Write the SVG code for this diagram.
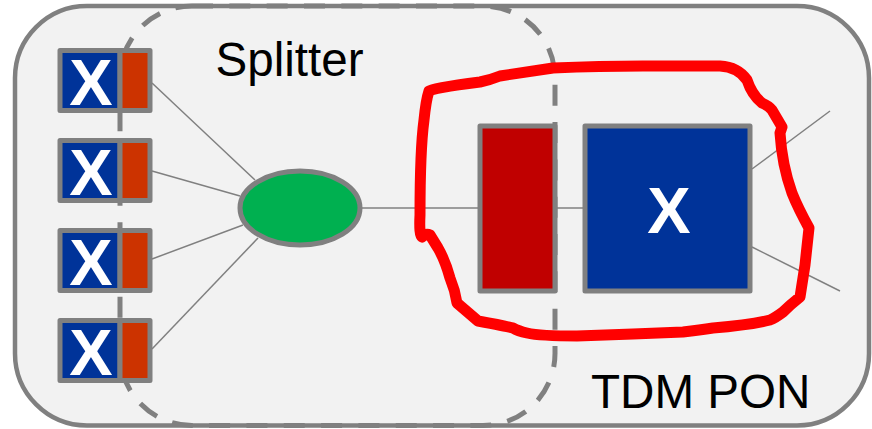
<svg xmlns="http://www.w3.org/2000/svg" width="872" height="429" viewBox="0 0 872 429">
<style>
.box{stroke:#808080;stroke-width:5;stroke-linejoin:round}
.blue{fill:#003399}
.orange{fill:#cc3300}
.dark{fill:#c00000}
.x{font-family:"Liberation Sans",Arial,sans-serif;font-weight:bold;font-size:65px;fill:#fff;text-anchor:middle}
.lbl{font-family:"Liberation Sans",Arial,sans-serif;font-size:47.6px;fill:#000}
#connectors line{stroke:#808080;stroke-width:1.5}
</style>
<rect id="pon" x="15" y="6" width="854" height="419.500" rx="72" ry="72" fill="#f2f2f2" stroke="#808080" stroke-width="4.500"/>
<path id="splitter-boundary" d="M192 6H483A72 72 0 0 1 555 78V353.500A72 72 0 0 1 483 425.500H192A72 72 0 0 1 120 353.500V78A72 72 0 0 1 192 6Z" fill="none" stroke="#808080" stroke-width="5" stroke-dasharray="21 16.330"/>
<g id="connectors">
<line x1="152" y1="83" x2="255" y2="180"/>
<line x1="152" y1="171" x2="240" y2="196"/>
<line x1="152" y1="259" x2="243" y2="225"/>
<line x1="152" y1="349" x2="258" y2="238"/>
<line x1="360" y1="208" x2="480" y2="208"/>
<line x1="555" y1="208" x2="585" y2="208"/>
<line x1="752" y1="169" x2="830" y2="111"/>
<line x1="752" y1="247" x2="840" y2="291"/>
</g>
<g id="onu1"><rect class="box blue" x="60" y="50.500" width="60" height="60"/><rect class="box orange" x="120" y="50.500" width="30" height="60"/><text class="x" x="91" y="105">X</text></g>
<g id="onu2"><rect class="box blue" x="60" y="140.500" width="60" height="60"/><rect class="box orange" x="120" y="140.500" width="30" height="60"/><text class="x" x="91" y="195">X</text></g>
<g id="onu3"><rect class="box blue" x="60" y="230.500" width="60" height="60"/><rect class="box orange" x="120" y="230.500" width="30" height="60"/><text class="x" x="91" y="285">X</text></g>
<g id="onu4"><rect class="box blue" x="60" y="320.500" width="60" height="60"/><rect class="box orange" x="120" y="320.500" width="30" height="60"/><text class="x" x="91" y="375">X</text></g>
<g id="splitter"><ellipse class="box" cx="300" cy="208" rx="60" ry="37" fill="#00b050"/></g>
<g id="olt-port"><rect class="box dark" x="480" y="126" width="75" height="165"/></g>
<g id="olt"><rect class="box blue" x="585" y="126" width="165" height="165"/><text class="x" x="669" y="233">X</text></g>
<text id="splitter-label" class="lbl" x="215.500" y="76">Splitter</text>
<text id="tdm-label" class="lbl" x="591" y="408">TDM PON</text>
<path id="highlight" d="M420 215Q420 150 424 120Q426 100 429 91Q432 88 480 82Q490 80 500 76L553 68Q600 66 643 66L720 66Q738 67 747 80Q752 95 762 103Q769 106 772 110L782 127L780 133Q782 165 792 193Q798 208 809 228L805 265L800 297Q790 305 783 312Q775 318 770 320Q750 325 713 328Q700 330 683 332L633 334L577 336Q540 336 527 333Q518 331 513 328Q510 327 478 321L457 303Q455 290 450 278Q445 260 438 248L430 235Q426 233 422 237Q419 235 420 215Z" fill="none" stroke="#ff0000" stroke-width="11" stroke-linejoin="round" stroke-linecap="round"/>
</svg>
